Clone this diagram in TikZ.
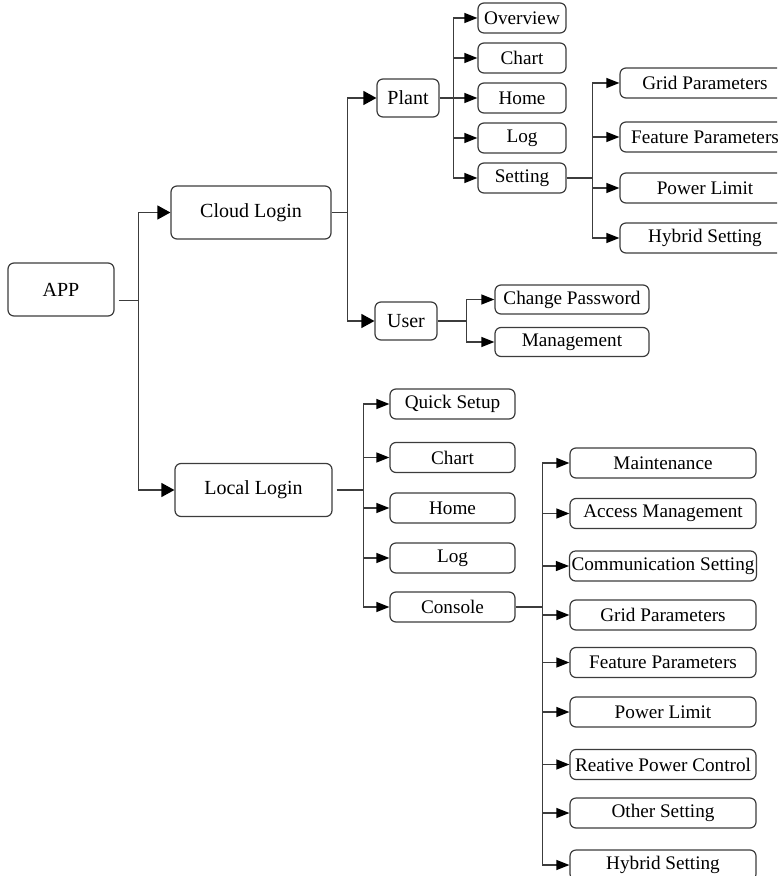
\documentclass[tikz,border=0pt]{standalone}
\usepackage{fontspec}
\setmainfont{Liberation Serif}
\usetikzlibrary{arrows.meta,positioning,calc}
\definecolor{menuline}{RGB}{60,60,60}

\begin{document}
\begin{tikzpicture}[
  x=0.5pt,y=-0.5pt,
  >={Triangle[length=6.5pt,width=5pt,color=black]},
  box/.style={draw=menuline,line width=0.6pt,rounded corners=3pt,
              inner sep=1pt,font=\fontsize{9.6}{11}\selectfont},
  topbox/.style={box,minimum height=26.5pt,font=\fontsize{10}{12}\selectfont},
  midbox/.style={box,minimum width=31pt,minimum height=19pt,
                 font=\fontsize{10}{12}\selectfont},
  plantleaf/.style={box,minimum width=44pt,minimum height=15pt},
  setleaf/.style={box,minimum width=85pt,minimum height=15pt},
  userleaf/.style={box,minimum width=77pt,minimum height=14.5pt},
  localleaf/.style={box,minimum width=62.5pt,minimum height=15pt},
  consleaf/.style={box,minimum width=93pt,minimum height=15pt},
  line/.style={menuline,line width=0.6pt},
  arr/.style={->,line},
  barr/.style={-{Triangle[length=6.5pt,width=7pt,color=black]},line},
]

\clip (0,0) rectangle (777,876);

%% ── Root and login level ────────────────────────────────────────────────
\node[topbox,minimum width=53pt]   (app)   at (61,289.5)  {APP};
\node[topbox,minimum width=80pt]   (cloud) at (251,212.5) {Cloud Login};
\node[topbox,minimum width=78.5pt] (local) at (253.5,490) {Local Login};

%% ── Cloud Login branch ──────────────────────────────────────────────────
\node[midbox] (plant) at (408,98)  {Plant};
\node[midbox] (user)  at (406,321) {User};

\node[plantleaf] (overview) at (522,18)  {Overview};
\node[plantleaf] (pchart)   at (522,58)  {Chart};
\node[plantleaf] (phome)    at (522,98)  {Home};
\node[plantleaf] (plog)     at (522,138) {Log};
\node[plantleaf] (setting)  at (522,178) {Setting};

\node[setleaf] (sgrid)    at (705,83)  {Grid Parameters};
\node[setleaf] (sfeature) at (705,137) {Feature Parameters};
\node[setleaf] (slimit)   at (705,188) {Power Limit};
\node[setleaf] (shybrid)  at (705,238) {Hybrid Setting};

\node[userleaf] (passwd) at (572,299.5) {Change Password};
\node[userleaf] (manage) at (572,342)   {Management};

%% ── Local Login branch ──────────────────────────────────────────────────
\node[localleaf] (quick)   at (452.5,404) {Quick Setup};
\node[localleaf] (lchart)  at (452.5,457.5) {Chart};
\node[localleaf] (lhome)   at (452.5,508) {Home};
\node[localleaf] (llog)    at (452.5,558) {Log};
\node[localleaf] (console) at (452.5,607) {Console};

\node[consleaf] (maint)   at (663,463)   {Maintenance};
\node[consleaf] (access)  at (663,513.5) {Access Management};
\node[consleaf] (comm)    at (663,566)   {Communication Setting};
\node[consleaf] (cgrid)   at (663,615)   {Grid Parameters};
\node[consleaf] (cfeature) at (663,662.5) {Feature Parameters};
\node[consleaf] (climit)  at (663,712)   {Power Limit};
\node[consleaf] (reactive) at (663,764.5) {Reative Power Control};
\node[consleaf] (other)   at (663,813)   {Other Setting};
\node[consleaf] (chybrid) at (663,865)   {Hybrid Setting};

%% ── Connectors: APP ─────────────────────────────────────────────────────
\draw[line,shorten <=2pt] ([yshift=-5.5pt]app.east) -- ++(24,0) coordinate (appbus);
\draw[barr] (appbus) |- (cloud.west);
\draw[barr] (appbus) |- (local.west);

%% ── Connectors: Cloud Login ─────────────────────────────────────────────
\draw[line] (cloud.east) -- ++(16,0) coordinate (cloudbus);
\draw[barr] (cloudbus) |- (plant.west);
\draw[barr] (cloudbus) |- (user.west);

\draw[line] (plant.east) -- ++(14,0) coordinate (plantbus);
\draw[arr] (plantbus) |- (overview.west);
\draw[arr] (plantbus) |- (pchart.west);
\draw[arr] (plantbus) |- (phome.west);
\draw[arr] (plantbus) |- (plog.west);
\draw[arr] (plantbus) |- (setting.west);

\draw[line] (setting.east) -- ++(26,0) coordinate (setbus);
\draw[arr] (setbus) |- (sgrid.west);
\draw[arr] (setbus) |- (sfeature.west);
\draw[arr] (setbus) |- (slimit.west);
\draw[arr] (setbus) |- (shybrid.west);

\draw[line] (user.east) -- ++(29,0) coordinate (userbus);
\draw[arr] (userbus) |- (passwd.west);
\draw[arr] (userbus) |- (manage.west);

%% ── Connectors: Local Login ─────────────────────────────────────────────
\draw[line,shorten <=2pt] (local.east) -- ++(31,0) coordinate (localbus);
\draw[arr] (localbus) |- (quick.west);
\draw[arr] (localbus) |- (lchart.west);
\draw[arr] (localbus) |- (lhome.west);
\draw[arr] (localbus) |- (llog.west);
\draw[arr] (localbus) |- (console.west);

\draw[line] (console.east) -- ++(27,0) coordinate (consbus);
\draw[arr] (consbus) |- (maint.west);
\draw[arr] (consbus) |- (access.west);
\draw[arr] (consbus) |- (comm.west);
\draw[arr] (consbus) |- (cgrid.west);
\draw[arr] (consbus) |- (cfeature.west);
\draw[arr] (consbus) |- (climit.west);
\draw[arr] (consbus) |- (reactive.west);
\draw[arr] (consbus) |- (other.west);
\draw[arr] (consbus) |- (chybrid.west);

\end{tikzpicture}
\end{document}
